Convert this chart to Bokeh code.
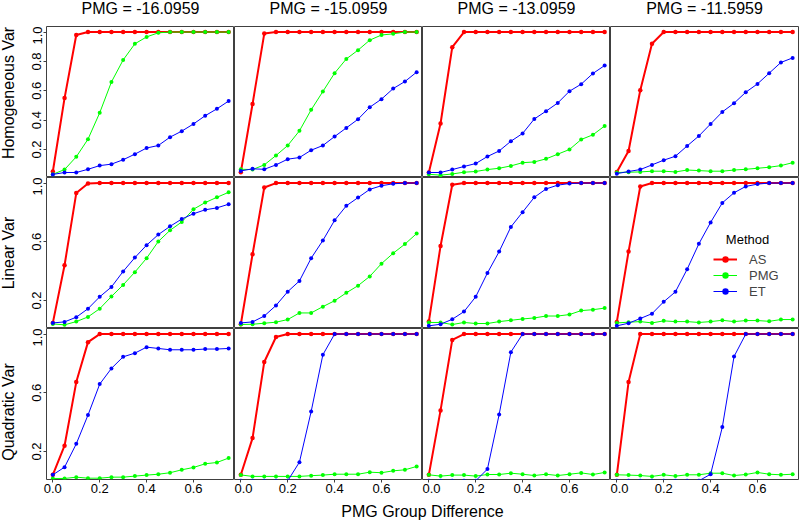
import math
from bokeh.plotting import figure
from bokeh.layouts import gridplot, column
from bokeh.models import (Range1d, FixedTicker, PrintfTickFormatter, Legend,
                          LegendItem, Label)
from bokeh.embed import file_html
from bokeh.resources import INLINE

FONT = "Liberation Sans"

# ---------------- data ----------------
x_vals = [0.00, 0.05, 0.10, 0.15, 0.20, 0.25, 0.30, 0.35,
          0.40, 0.45, 0.50, 0.55, 0.60, 0.65, 0.70, 0.75]

panel_titles = ["PMG = -16.0959", "PMG = -15.0959", "PMG = -13.0959", "PMG = -11.5959"]
row_labels = ["Homogeneous Var", "Linear Var", "Quadratic Var"]
methods = ["AS", "PMG", "ET"]
x_ticks = [0.0, 0.2, 0.4, 0.6]
y_ticks_rows = [[0.0, 0.2, 0.4, 0.6, 0.8, 1.0], [0.2, 0.6, 1.0], [0.2, 0.6, 1.0]]

# Homogeneous Var, columns 1..4
hom_as = [
    [0.05, 0.55, 0.98, 1, 1, 1, 1, 1, 1, 1, 1, 1, 1, 1, 1, 1],
    [0.045, 0.51, 0.99, 1, 1, 1, 1, 1, 1, 1, 1, 1, 1, 1, 1, 1],
    [0.043, 0.377, 0.897, 1, 1, 1, 1, 1, 1, 1, 1, 1, 1, 1, 1, 1],
    [0.047, 0.19, 0.604, 0.92, 1, 1, 1, 1, 1, 1, 1, 1, 1, 1, 1, 1],
]
hom_pmg = [
    [0.031, 0.063, 0.15, 0.27, 0.45, 0.66, 0.81, 0.92, 0.967, 0.995, 1, 1, 1, 1, 1, 1],
    [0.065, 0.063, 0.095, 0.159, 0.227, 0.327, 0.47, 0.595, 0.72, 0.817, 0.877, 0.945, 0.98, 0.988, 1.0, 1.0],
    [0.031, 0.025, 0.033, 0.045, 0.05, 0.063, 0.072, 0.088, 0.11, 0.115, 0.136, 0.168, 0.2, 0.268, 0.3, 0.36],
    [0.043, 0.045, 0.047, 0.052, 0.052, 0.047, 0.06, 0.056, 0.052, 0.052, 0.06, 0.065, 0.072, 0.079, 0.09, 0.11],
]
hom_et = [
    [0.03, 0.043, 0.043, 0.065, 0.09, 0.1, 0.13, 0.168, 0.21, 0.227, 0.284, 0.325, 0.374, 0.43, 0.477, 0.53],
    [0.054, 0.068, 0.065, 0.095, 0.134, 0.145, 0.195, 0.227, 0.288, 0.347, 0.406, 0.488, 0.543, 0.615, 0.663, 0.727],
    [0.043, 0.043, 0.063, 0.084, 0.104, 0.152, 0.19, 0.256, 0.309, 0.408, 0.461, 0.517, 0.597, 0.645, 0.718, 0.772],
    [0.035, 0.05, 0.063, 0.095, 0.127, 0.154, 0.224, 0.292, 0.374, 0.456, 0.515, 0.59, 0.647, 0.72, 0.793, 0.824],
]

# Linear Var
lin_as = [
    [0.047, 0.44, 0.932, 0.997, 1, 1, 1, 1, 1, 1, 1, 1, 1, 1, 1, 1],
    [0.038, 0.515, 0.97, 1, 1, 1, 1, 1, 1, 1, 1, 1, 1, 1, 1, 1],
    [0.056, 0.571, 0.989, 1, 1, 1, 1, 1, 1, 1, 1, 1, 1, 1, 1, 1],
    [0.054, 0.533, 0.977, 1, 1, 1, 1, 1, 1, 1, 1, 1, 1, 1, 1, 1],
]
lin_pmg = [
    [0.04, 0.034, 0.056, 0.088, 0.144, 0.227, 0.306, 0.393, 0.488, 0.602, 0.678, 0.735, 0.822, 0.867, 0.903, 0.937],
    [0.036, 0.038, 0.045, 0.052, 0.07, 0.115, 0.115, 0.158, 0.198, 0.252, 0.301, 0.364, 0.451, 0.522, 0.584, 0.656],
    [0.05, 0.05, 0.036, 0.05, 0.043, 0.043, 0.056, 0.065, 0.074, 0.081, 0.094, 0.094, 0.104, 0.131, 0.137, 0.148],
    [0.047, 0.052, 0.056, 0.047, 0.061, 0.056, 0.056, 0.05, 0.056, 0.065, 0.056, 0.063, 0.063, 0.058, 0.07, 0.07],
]
lin_et = [
    [0.047, 0.054, 0.086, 0.144, 0.225, 0.292, 0.398, 0.492, 0.577, 0.649, 0.705, 0.755, 0.791, 0.818, 0.831, 0.856],
    [0.047, 0.054, 0.094, 0.166, 0.26, 0.333, 0.488, 0.609, 0.746, 0.845, 0.901, 0.957, 0.982, 0.995, 1.0, 1.0],
    [0.027, 0.038, 0.072, 0.124, 0.225, 0.387, 0.533, 0.701, 0.802, 0.903, 0.96, 0.986, 0.997, 1, 1, 1],
    [0.027, 0.045, 0.077, 0.11, 0.191, 0.259, 0.413, 0.586, 0.732, 0.865, 0.934, 0.977, 0.993, 1, 1, 1],
]

# Quadratic Var
quad_as = [
    [0.041, 0.239, 0.673, 0.945, 1, 1, 1, 1, 1, 1, 1, 1, 1, 1, 1, 1],
    [0.041, 0.291, 0.81, 0.98, 1, 1, 1, 1, 1, 1, 1, 1, 1, 1, 1, 1],
    [0.041, 0.48, 0.96, 1, 1, 1, 1, 1, 1, 1, 1, 1, 1, 1, 1, 1],
    [0.041, 0.673, 1.0, 1, 1, 1, 1, 1, 1, 1, 1, 1, 1, 1, 1, 1],
]
quad_pmg = [
    [0.016, 0.016, 0.025, 0.018, 0.018, 0.025, 0.025, 0.032, 0.039, 0.045, 0.055, 0.075, 0.091, 0.116, 0.125, 0.155],
    [0.04, 0.03, 0.03, 0.03, 0.03, 0.03, 0.035, 0.039, 0.045, 0.045, 0.045, 0.059, 0.055, 0.068, 0.075, 0.098],
    [0.041, 0.032, 0.039, 0.039, 0.032, 0.043, 0.043, 0.052, 0.045, 0.036, 0.045, 0.036, 0.045, 0.054, 0.043, 0.057],
    [0.041, 0.039, 0.036, 0.03, 0.041, 0.032, 0.041, 0.041, 0.052, 0.052, 0.036, 0.043, 0.057, 0.045, 0.041, 0.045],
]
quad_et = [
    [0.041, 0.093, 0.252, 0.448, 0.659, 0.766, 0.845, 0.87, 0.911, 0.902, 0.893, 0.893, 0.893, 0.898, 0.898, 0.902],
    [0.0, 0.0, 0.0, 0.0, 0.0, 0.127, 0.472, 0.859, 1, 1, 1, 1, 1, 1, 1, 1],
    [0.0, 0.0, 0.0, 0.0, 0.0, 0.08, 0.452, 0.877, 1, 1, 1, 1, 1, 1, 1, 1],
    [0.0, 0.0, 0.0, 0.0, 0.0, 0.0, 0.0, 0.0, 0.045, 0.366, 0.847, 1, 1, 1, 1, 1],
]

rows_data = [
    [hom_as, hom_pmg, hom_et],
    [lin_as, lin_pmg, lin_et],
    [quad_as, quad_pmg, quad_et],
]

colors = ["#FF0000", "#00FF00", "#0000FF"]
widths = [2, 1, 1]
msizes = [4.5, 4, 4]

FW, FH = 188, 151
STRIP_W = 22
LEFT = 46
TOP = 26
BOTTOM = 20
BOX = "#404040"
label_y = [84.5, 75.5, 67.5]   # vertical position of row labels inside their strip


def blank(width, height, **kw):
    f = figure(frame_width=width, frame_height=height, output_backend="svg",
               toolbar_location=None, x_range=Range1d(0, 1), y_range=Range1d(0, 1),
               x_axis_location=None, y_axis_location=None, outline_line_color=None,
               **kw)
    f.xgrid.grid_line_color = None
    f.ygrid.grid_line_color = None
    return f


grid = []

# title row
title_row = [blank(STRIP_W, TOP, min_border=0)]
for c in range(4):
    t = blank(FW, TOP, min_border_top=0, min_border_bottom=0,
              min_border_left=(LEFT - STRIP_W) if c == 0 else 0,
              min_border_right=1 if c == 3 else 0)
    t.add_layout(Label(x=FW / 2, y=18, x_units="screen", y_units="screen",
                       text=panel_titles[c], text_align="center",
                       text_baseline="middle", text_font=FONT,
                       text_font_size="16px", text_color="black"))
    title_row.append(t)
grid.append(title_row)

for r in range(3):
    row_figs = []
    s = blank(STRIP_W, FH, min_border_left=0, min_border_right=0, min_border_top=0,
              min_border_bottom=BOTTOM if r == 2 else 0)
    s.add_layout(Label(x=8, y=label_y[r], x_units="screen", y_units="screen",
                       text=row_labels[r], angle=math.pi / 2,
                       text_align="center", text_baseline="middle",
                       text_font=FONT, text_font_size="16px", text_color="black"))
    row_figs.append(s)
    for c in range(4):
        p = figure(frame_width=FW, frame_height=FH,
                   x_range=Range1d(-0.027, 0.775), y_range=Range1d(0.009, 1.038),
                   output_backend="svg", toolbar_location=None,
                   x_axis_location="below" if r == 2 else None,
                   y_axis_location="left" if c == 0 else None,
                   min_border_left=(LEFT - STRIP_W) if c == 0 else 0,
                   min_border_right=1 if c == 3 else 0,
                   min_border_top=0,
                   min_border_bottom=BOTTOM if r == 2 else 0)
        p.xgrid.grid_line_color = None
        p.ygrid.grid_line_color = None
        p.outline_line_color = BOX
        p.outline_line_width = 1
        p.background_fill_color = "white"
        p.border_fill_color = "white"
        if r == 2:
            ax = p.xaxis[0]
            ax.ticker = FixedTicker(ticks=x_ticks)
            ax.formatter = PrintfTickFormatter(format="%.1f")
            ax.axis_line_color = None
            ax.major_tick_out = 3
            ax.major_tick_in = 0
            ax.minor_tick_line_color = None
            ax.major_tick_line_color = BOX
            ax.major_label_standoff = 1
            ax.major_label_text_font = FONT
            ax.major_label_text_font_size = "13px"
            ax.major_label_text_color = "black"
        if c == 0:
            ay = p.yaxis[0]
            ay.ticker = FixedTicker(ticks=y_ticks_rows[r])
            ay.formatter = PrintfTickFormatter(format="%.1f")
            ay.axis_line_color = None
            ay.major_tick_out = 3
            ay.major_tick_in = 0
            ay.minor_tick_line_color = None
            ay.major_tick_line_color = BOX
            ay.major_label_standoff = 2
            ay.major_label_orientation = "vertical"
            ay.major_label_text_font = FONT
            ay.major_label_text_font_size = "13px"
            ay.major_label_text_color = "black"

        rends = []
        for m in range(3):
            ys = rows_data[r][m][c]
            ln = p.line(x_vals, ys, line_color=colors[m], line_width=widths[m])
            sc = p.scatter(x_vals, ys, marker="circle", size=msizes[m],
                           fill_color=colors[m], line_color=None)
            rends.append((ln, sc))

        if r == 1 and c == 3:
            items = [LegendItem(label=methods[m], renderers=[rends[m][0], rends[m][1]])
                     for m in range(3)]
            leg = Legend(items=items, location=(103, 29), glyph_width=24, glyph_height=16,
                         label_height=16, label_width=20, spacing=0, padding=0, margin=0,
                         label_standoff=12, background_fill_alpha=0, border_line_color=None,
                         label_text_font=FONT, label_text_font_size="13px")
            p.add_layout(leg)
            p.add_layout(Label(x=137, y=89, x_units="screen", y_units="screen",
                               text="Method", text_align="center", text_baseline="middle",
                               text_font=FONT, text_font_size="13px", text_color="black"))
        row_figs.append(p)
    grid.append(row_figs)

g = gridplot(grid, toolbar_location=None)

strip = figure(width=799, height=22, output_backend="svg", toolbar_location=None,
               x_range=Range1d(0, 1), y_range=Range1d(0, 1),
               x_axis_location=None, y_axis_location=None,
               min_border=0, outline_line_color=None)
strip.xgrid.grid_line_color = None
strip.ygrid.grid_line_color = None
strip.add_layout(Label(x=LEFT + 2 * FW, y=10, x_units="screen", y_units="screen",
                       text="PMG Group Difference", text_align="center",
                       text_baseline="middle", text_font=FONT, text_font_size="16px",
                       text_color="black"))

layout = column(g, strip, spacing=0)

with open("out.html", "w") as f:
    f.write(file_html(layout, INLINE))
